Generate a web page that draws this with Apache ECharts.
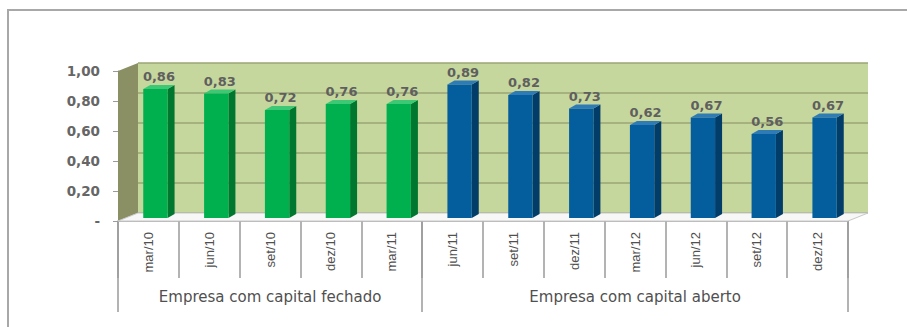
<!DOCTYPE html>
<html>
<head>
<meta charset="utf-8">
<script src="https://cdn.jsdelivr.net/npm/echarts@6/dist/echarts.min.js"></script>
<style>
html,body{margin:0;padding:0;background:#fff;}
#c{width:907px;height:327px;}
</style>
</head>
<body>
<div id="c"></div>
<script>
// ---- data ----
const categories = ['mar/10','jun/10','set/10','dez/10','mar/11','jun/11','set/11','dez/11','mar/12','jun/12','set/12','dez/12'];
const fechadoValues = [0.86, 0.83, 0.72, 0.76, 0.76];
const abertoValues = [0.89, 0.82, 0.73, 0.62, 0.67, 0.56, 0.67];
const groupNames = ['Empresa com capital fechado', 'Empresa com capital aberto'];
const groupSizes = [5, 7];
const yTickValues = [0, 0.2, 0.4, 0.6, 0.8, 1.0];

// ---- layout (front plane and back wall) ----
const F = {left: 118, top: 71, width: 730, height: 150};
const D = {x: 20, y: -8};           // depth offset front -> back wall
const BAR_SHIFT = {x: 7, y: -3};    // bars sit part way into depth
const BAR_DEPTH = {x: 7, y: -4};

const fmt = v => v === 0 ? '-' : v.toFixed(2).replace('.', ',');

// group boundaries and centres from group sizes
const bounds = [0];
groupSizes.forEach(s => bounds.push(bounds[bounds.length - 1] + s));
const centres = groupSizes.map((s, i) => bounds[i] + s / 2);

const fechadoData = fechadoValues.map((v, i) => [i, v]);
const abertoData = abertoValues.map((v, i) => [i + groupSizes[0], v]);

function makeRender(front, side, top) {
  return function (params, api) {
    const xi = api.value(0), v = api.value(1);
    const pt = api.coord([xi, v]);
    const pb = api.coord([xi, 0]);
    const band = api.size([1, 0])[0];
    const w = band * 0.4;
    const cx = pt[0] + BAR_SHIFT.x;
    const l = cx - w / 2, r = cx + w / 2;
    const yt = pt[1] + BAR_SHIFT.y, yb = pb[1] + BAR_SHIFT.y;
    const dx = BAR_DEPTH.x, dy = BAR_DEPTH.y;
    return {
      type: 'group',
      children: [
        {type: 'polygon', shape: {points: [[r, yt], [r + dx, yt + dy], [r + dx, yb + dy], [r, yb]]}, style: {fill: side}},
        {type: 'polygon', shape: {points: [[l, yt], [l + dx, yt + dy], [r + dx, yt + dy], [r, yt]]}, style: {fill: top}},
        {type: 'rect', shape: {x: l, y: yt, width: w, height: yb - yt}, style: {fill: front}},
        {type: 'text', x: cx + dx / 2, y: yt + dy - 2,
          style: {text: fmt(v), align: 'center', verticalAlign: 'bottom',
            font: 'bold 13px "DejaVu Sans"', fill: '#5f5f5f'}}
      ]
    };
  };
}

const chart = echarts.init(document.getElementById('c'), null, {renderer: 'svg'});
chart.setOption({
  backgroundColor: '#ffffff',
  animation: false,
  grid: [
    {left: F.left, top: F.top, width: F.width, height: F.height, containLabel: false},
    {left: F.left + D.x, top: F.top + D.y, width: F.width, height: F.height, show: true,
      backgroundColor: '#c6d79d', borderWidth: 0}
  ],
  xAxis: [
    {type: 'category', gridIndex: 0, data: categories, position: 'bottom',
      axisLine: {show: true, lineStyle: {color: '#9a9a9a', width: 1.5}},
      axisTick: {show: true, interval: 0, length: 57, lineStyle: {color: '#9a9a9a', width: 1.5}},
      axisLabel: {rotate: 90, interval: 0, margin: 11, fontFamily: 'Liberation Sans', fontSize: 13, color: '#505050'},
      splitLine: {show: false}},
    {type: 'value', gridIndex: 0, min: 0, max: categories.length, position: 'bottom',
      axisLine: {show: false}, splitLine: {show: false},
      axisTick: {show: true, customValues: bounds, length: 91, lineStyle: {color: '#9a9a9a', width: 1.5}},
      axisLabel: {customValues: centres, margin: 68, fontFamily: 'DejaVu Sans', fontSize: 15, color: '#505050',
        formatter: v => groupNames[centres.indexOf(v)] || ''}},
    {type: 'value', gridIndex: 1, min: 0, max: 1, show: false}
  ],
  yAxis: [
    {type: 'value', gridIndex: 0, min: 0, max: 1, interval: 0.2,
      axisLine: {show: true, lineStyle: {color: '#9a9a9a'}},
      axisTick: {show: true, length: 5, lineStyle: {color: '#9a9a9a'}},
      axisLabel: {margin: 18, fontFamily: 'DejaVu Sans', fontWeight: 'bold', fontSize: 13.5, color: '#666',
        formatter: v => yTickValues.indexOf(+v.toFixed(2)) >= 0 ? fmt(v) : ''},
      splitLine: {show: false}},
    {type: 'value', gridIndex: 1, min: 0, max: 1, interval: 0.2,
      axisLine: {show: false}, axisTick: {show: false}, axisLabel: {show: false},
      splitLine: {show: true, lineStyle: {color: '#9aa676', width: 1.5}}}
  ],
  graphic: [
    {type: 'rect', z: -10, silent: true, shape: {x: 8, y: 10, width: 1000, height: 400},
      style: {fill: 'none', stroke: '#a8a8a8', lineWidth: 2}},
    {type: 'polygon', z: 1, silent: true,
      shape: {points: [[F.left, F.top], [F.left + D.x, F.top + D.y], [F.left + D.x, F.top + F.height + D.y], [F.left, F.top + F.height]]},
      style: {fill: '#8a9064'}},
    {type: 'polygon', z: 1, silent: true,
      shape: {points: [[F.left, F.top + F.height], [F.left + D.x, F.top + F.height + D.y], [F.left + F.width + D.x, F.top + F.height + D.y], [F.left + F.width, F.top + F.height]]},
      style: {fill: '#f7f7f7', stroke: '#c8c8c8', lineWidth: 1}}
  ],
  series: [
    {type: 'custom', name: 'Empresa com capital fechado', xAxisIndex: 0, yAxisIndex: 0, z: 5,
      encode: {x: 0, y: 1}, data: fechadoData, renderItem: makeRender('#00b04f', '#00772f', '#3cc874')},
    {type: 'custom', name: 'Empresa com capital aberto', xAxisIndex: 0, yAxisIndex: 0, z: 5,
      encode: {x: 0, y: 1}, data: abertoData, renderItem: makeRender('#045d9c', '#023c69', '#2f7bb6')}
  ]
});
</script>
</body>
</html>
